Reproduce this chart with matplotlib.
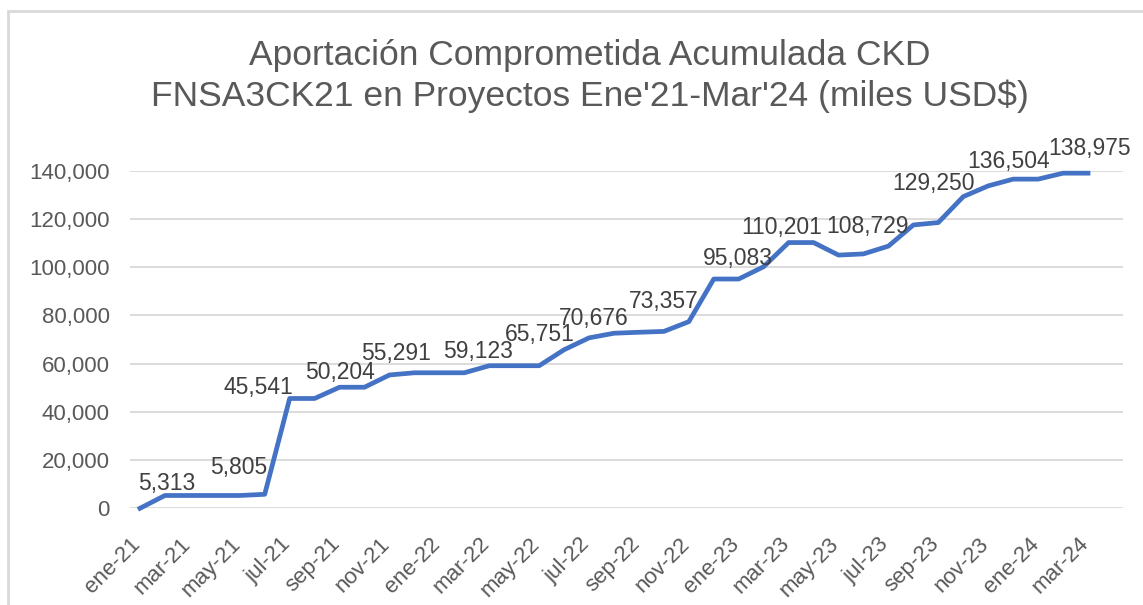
import numpy as np
import matplotlib.pyplot as plt
from matplotlib.patches import Rectangle
from matplotlib.transforms import ScaledTranslation

plt.rcParams['font.family'] = ['Liberation Sans', 'DejaVu Sans']

months = ['ene', 'feb', 'mar', 'abr', 'may', 'jun', 'jul', 'ago', 'sep', 'oct', 'nov', 'dic']
periods = [m + '-' + y for y in ['21', '22', '23'] for m in months] + ['ene-24', 'feb-24', 'mar-24']

# aportacion acumulada (miles USD$)
values = [0, 5313, 5313, 5313, 5313, 5805, 45541, 45541, 50204, 50204,
          55291, 56200, 56200, 56200, 59123, 59123, 59123, 65751, 70676, 72600,
          73000, 73357, 77400, 95083, 95083, 100200, 110201, 110201, 105000, 105500,
          108729, 117500, 118500, 129250, 133700, 136504, 136504, 138975, 138975]

# which points carry a data label
label_idx = [1, 5, 6, 8, 10, 14, 17, 18, 21, 24, 26, 30, 33, 35, 38]
# where each label sits relative to its point (pixels)
label_offsets = [(2, 12), (-26, 27), (-31, 11), (0, 15), (7, 21), (-11, 14), (-24, 15),
                 (5, 19), (0, 30), (-1, 21), (-7, 15), (-21, 20), (-30, 13), (-5, 18), (2, 25)]

W, H = 1143, 605
fig = plt.figure(figsize=(W / 100, H / 100), dpi=100)
ax = fig.add_axes([130 / W, (H - 508.3) / H, (1123 - 130) / W, (508.3 - 170.7) / H])

x = np.arange(len(values))
ax.plot(x, values, color='#4472C4', lw=3.4, solid_joinstyle='round', clip_on=False, zorder=3)

for i, (dx, dy) in zip(label_idx, label_offsets):
    ax.annotate(f'{values[i]:,}', (x[i], values[i]), xytext=(dx, dy), textcoords='offset pixels',
                ha='center', va='center', fontsize=16.5, color='#404040', zorder=4)

ax.set_xlim(-0.4, 38 + 35 / 24.95)
ax.set_ylim(0, 140000)
ax.set_yticks(np.arange(0, 140001, 20000))
ax.set_yticklabels([f'{v:,}' for v in range(0, 140001, 20000)])
ax.set_xticks(x[::2])
ax.set_xticklabels(periods[::2], rotation=45, ha='right', va='top')
ax.tick_params(axis='y', length=0, pad=14.5, labelsize=16, labelcolor='#595959')
ax.tick_params(axis='x', length=0, pad=18, labelsize=16, labelcolor='#595959')
off = ScaledTranslation(5 / 100, 0, fig.dpi_scale_trans)
for lab in ax.get_xticklabels():
    lab.set_transform(lab.get_transform() + off)

ax.grid(axis='y', color='#D9D9D9', lw=1.3)
ax.set_axisbelow(True)
for s in ax.spines.values():
    s.set_visible(False)

fig.text(590 / W, (H - 76) / H, "Aportación Comprometida Acumulada CKD\nFNSA3CK21 en Proyectos Ene'21-Mar'24 (miles USD$)",
         ha='center', va='center', fontsize=25.5, color='#595959', linespacing=1.3)

fig.patches.append(Rectangle((8 / W, -0.1), 1.2, (H - 11) / H + 0.1, transform=fig.transFigure,
                             fill=False, edgecolor='#D9D9D9', lw=2))

fig.savefig('out.png', dpi=100)
